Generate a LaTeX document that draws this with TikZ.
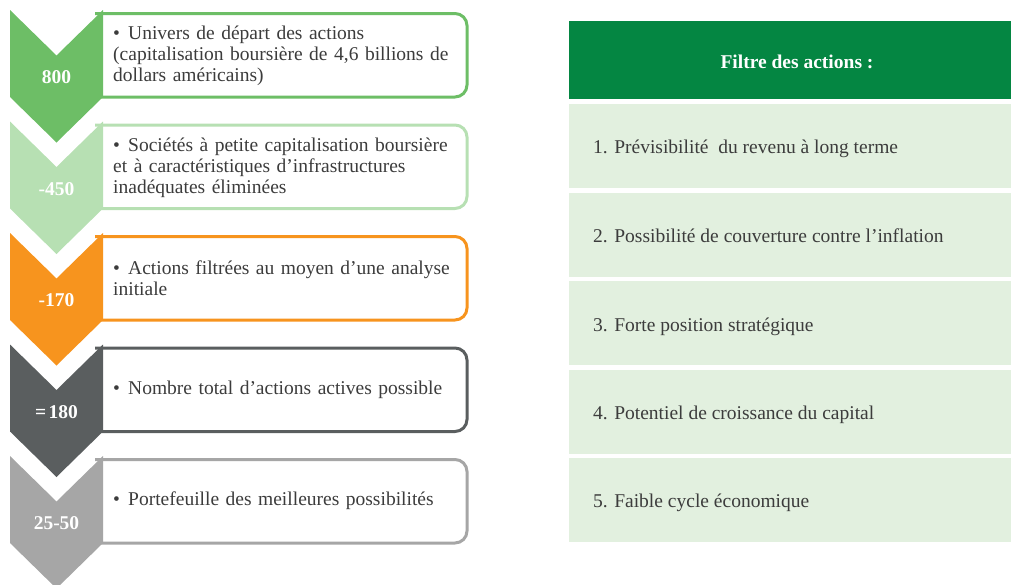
\documentclass[tikz,border=0pt]{standalone}
\usepackage{fontspec}
\setmainfont{Liberation Serif}
\definecolor{stageA}{HTML}{6DBE66}
\definecolor{stageB}{HTML}{B7E0B3}
\definecolor{stageC}{HTML}{F7941E}
\definecolor{stageD}{HTML}{5A5E5F}
\definecolor{stageE}{HTML}{A6A6A6}
\definecolor{headgreen}{HTML}{048642}
\definecolor{rowfill}{HTML}{E2F0DF}
\definecolor{bodytext}{HTML}{3C3C3C}
\newcommand\bulletline{\hangindent=15pt\hangafter=1\noindent\makebox[15pt][l]{\textbullet}}
\begin{document}
\begin{tikzpicture}[x=1pt,y=-1pt,
  stagechev/.pic={\fill[pic actions] (0,0) -- (46.5,45.5) -- (93,0) -- (93,87) -- (46.5,132.5) -- (0,87) -- cycle;},
  stagebox/.style={line width=3pt, fill=white, rounded corners=12pt},
  boxtext/.style={anchor=west, inner sep=0pt, text width=345pt, align=left, text=bodytext,
    font=\fontsize{19.5}{21}\selectfont},
  numtext/.style={inner sep=0pt, text=white, font=\fontsize{19.5}{21}\selectfont\bfseries},
  headtext/.style={inner sep=0pt, text=white, font=\fontsize{19.5}{21}\selectfont\bfseries},
  rowtext/.style={anchor=base west, inner sep=0pt, text=bodytext, font=\fontsize{19.5}{21}\selectfont},
  rowbox/.style={fill=rowfill},
]
\path[use as bounding box] (0,0) rectangle (1012,584);
\clip (0,0) rectangle (1012,584);

% stage boxes (left end hidden under the chevrons)
\draw[stagebox, draw=stageA] (95,13.5) -- (467,13.5) -- (467,97) -- (95,97);
\draw[stagebox, draw=stageB] (95,125) -- (467,125) -- (467,208.5) -- (95,208.5);
\draw[stagebox, draw=stageC] (95,236.5) -- (467,236.5) -- (467,320) -- (95,320);
\draw[stagebox, draw=stageD] (95,348) -- (467,348) -- (467,431.5) -- (95,431.5);
\draw[stagebox, draw=stageE] (95,459.5) -- (467,459.5) -- (467,543) -- (95,543);

% chevrons
\pic[fill=stageA] at (10,10) {stagechev};
\pic[fill=stageB] at (10,121.5) {stagechev};
\pic[fill=stageC] at (10,233) {stagechev};
\pic[fill=stageD] at (10,344.5) {stagechev};
\pic[fill=stageE] at (10,456) {stagechev};

% counts
\node[numtext] (nA) at (56.5,77.5) {800};
\node[numtext] (nB) at (56.5,189) {-450};
\node[numtext] (nC) at (56.5,300.5) {-170};
\node[numtext] (nD) at (56.5,412) {=\hspace{2.5pt}180};
\node[numtext] (nE) at (56.5,523.5) {25-50};

% stage descriptions
\node[boxtext] (tA) at (113,56) {\bulletline Univers de départ des actions\newline (capitalisation boursière de 4,6 billions de\newline dollars américains)};
\node[boxtext] (tB) at (113,167.5) {\bulletline Sociétés à petite capitalisation boursière\newline et à caractéristiques d’infrastructures\newline inadéquates éliminées};
\node[boxtext] (tC) at (113,278) {\bulletline Actions filtrées au moyen d’une analyse\newline initiale};
\node[boxtext] (tD) at (113,390) {\bulletline Nombre total d’actions actives possible};
\node[boxtext] (tE) at (113,501) {\bulletline Portefeuille des meilleures possibilités};

% filter table
\fill[headgreen] (569,21) rectangle (1011,99);
\node[headtext] (head) at (797,62) {Filtre des actions :};
\fill[rowbox] (569,104) rectangle (1011,188);
\fill[rowbox] (569,192.5) rectangle (1011,276.5);
\fill[rowbox] (569,281) rectangle (1011,365);
\fill[rowbox] (569,369.5) rectangle (1011,453.5);
\fill[rowbox] (569,458) rectangle (1011,542);
\node[rowtext] (fA) at (593,153.5) {1. Prévisibilité\ \ du revenu à long terme};
\node[rowtext] (fB) at (593,242) {2. Possibilité de couverture contre l’inflation};
\node[rowtext] (fC) at (593,331) {3. Forte position stratégique};
\node[rowtext] (fD) at (593,419) {4. Potentiel de croissance du capital};
\node[rowtext] (fE) at (593,507) {5. Faible cycle économique};
\end{tikzpicture}
\end{document}
